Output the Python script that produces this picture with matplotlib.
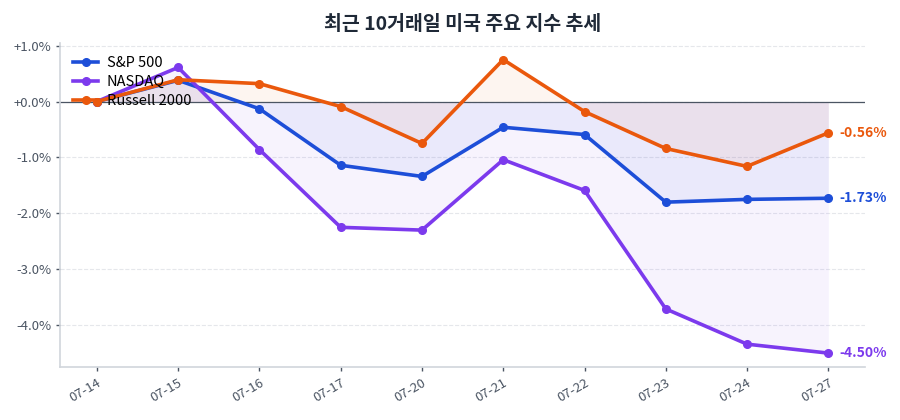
import matplotlib
matplotlib.use('Agg')
import matplotlib.pyplot as plt

plt.rcParams['font.family'] = ['Noto Sans CJK KR', 'DejaVu Sans']

# 최근 10거래일 누적 수익률 (%)
dates = ['07-14', '07-15', '07-16', '07-17', '07-20',
         '07-21', '07-22', '07-23', '07-24', '07-27']
sp500 = [0.0, 0.38, -0.13, -1.14, -1.34, -0.46, -0.59, -1.80, -1.75, -1.73]
nasdaq = [0.0, 0.61, -0.86, -2.25, -2.30, -1.04, -1.59, -3.71, -4.34, -4.50]
russell = [0.0, 0.39, 0.32, -0.09, -0.75, 0.75, -0.18, -0.84, -1.16, -0.56]
yticks = [1, 0, -1, -2, -3, -4]

series = [
    ('S&P 500', sp500, '#1d4ed8'),
    ('NASDAQ', nasdaq, '#7c3aed'),
    ('Russell 2000', russell, '#ea580c'),
]

fig = plt.figure(figsize=(9, 4.2), dpi=100)
ax = fig.add_axes([0.067, 0.126, 0.894, 0.772])

x = list(range(len(dates)))
for name, vals, color in series:
    ax.fill_between(x, vals, 0, color=color, alpha=0.06, linewidth=0)
    ax.plot(x, vals, color=color, linewidth=2.6, marker='o', markersize=5.5,
            label=name, zorder=3)
    ax.annotate(f'{vals[-1]:.2f}%', xy=(x[-1], vals[-1]), xytext=(8, 0),
                textcoords='offset points', color=color, fontsize=10,
                fontweight='bold', va='center', ha='left')

ax.axhline(0, color='#4b5563', linewidth=0.9, zorder=2)

ax.set_xlim(-0.45, 9.45)
ax.set_ylim(-4.75, 1.05)
ax.set_xticks(x)
ax.set_xticklabels(dates, rotation=30, ha='right', rotation_mode='anchor')
ax.set_yticks(yticks)
ax.set_yticklabels([f'{v:+.1f}%' if v >= 0 else f'{v:.1f}%' for v in yticks])

ax.grid(axis='y', linestyle='--', color='#e5e7eb', linewidth=0.8)
ax.set_axisbelow(True)
for s in ['top', 'right']:
    ax.spines[s].set_visible(False)
for s in ['left', 'bottom']:
    ax.spines[s].set_color('#d1d5db')
    ax.spines[s].set_linewidth(1.2)
ax.tick_params(colors='#4b5563', labelsize=9.5, length=3, width=1)
for lbl in ax.get_xticklabels() + ax.get_yticklabels():
    lbl.set_color('#4b5563')

ax.legend(loc='upper left', frameon=False, fontsize=10.5, handlelength=1.7,
          handletextpad=0.6, borderaxespad=0.5, labelspacing=0.35)

ax.set_title('최근 10거래일 미국 주요 지수 추세', fontsize=14, fontweight='bold',
             color='#1f2937', pad=9)

fig.savefig('out.png', dpi=100)
